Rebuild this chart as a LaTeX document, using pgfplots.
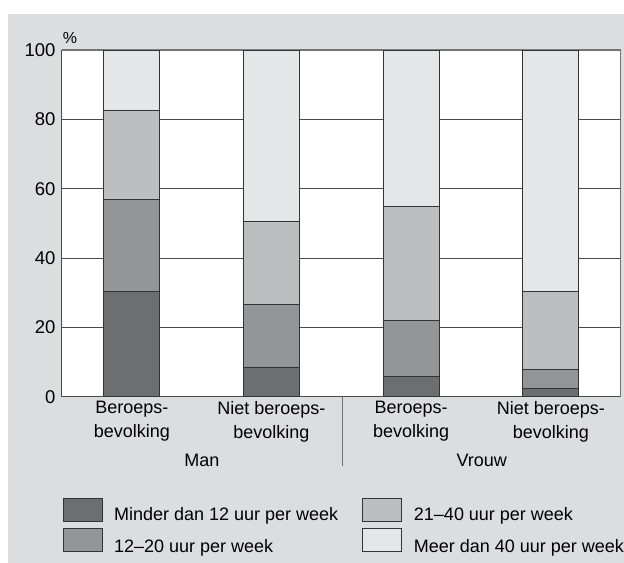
\documentclass[border=0pt]{standalone}
\usepackage{fontspec}
\setmainfont{Liberation Sans}
\usepackage{pgfplots}
\pgfplotsset{compat=1.18}
\definecolor{bg}{HTML}{DCDDDF}
\definecolor{c1}{HTML}{6D6E71}
\definecolor{c2}{HTML}{939598}
\definecolor{c3}{HTML}{BCBEC0}
\definecolor{c4}{HTML}{E5E6E8}
\definecolor{gridc}{HTML}{4A4A4A}
\definecolor{edge}{HTML}{333333}
\begin{document}
\begin{tikzpicture}[x=1pt,y=1pt,font=\fontsize{18}{24}\selectfont]
\fill[white] (-62,-166) rectangle (562,397);
\fill[bg] (-54,-166) rectangle (562,383);
\begin{axis}[
  at={(0,0)}, anchor=south west, scale only axis,
  width=559pt, height=347pt,
  ybar stacked, bar width=56pt,
  xmin=-0.5, xmax=3.5, ymin=0, ymax=100,
  ytick={0,20,40,60,80,100},
  xtick={0,1,2,3},
  xticklabels={{Beroeps-\\bevolking},{Niet beroeps-\\bevolking},{Beroeps-\\bevolking},{Niet beroeps-\\bevolking}},
  xticklabel style={align=center, font=\fontsize{18}{24}\selectfont, yshift=-1pt},
  yticklabel style={font=\fontsize{18.5}{24}\selectfont, xshift=-3pt},
  /pgf/number format/assume math mode=true,
  ymajorgrids, grid style={gridc, line width=0.9pt},
  major tick length=0pt,
  axis line style={draw=none},
  axis background/.style={fill=white},
  every axis plot/.append style={draw=edge, line width=0.8pt},
  clip=false,
]
\addplot[fill=c1, draw=edge] coordinates {(0,30.3) (1,8.6) (2,5.9) (3,2.3)};
\addplot[fill=c2, draw=edge] coordinates {(0,26.7) (1,17.9) (2,16.1) (3,5.5)};
\addplot[fill=c3, draw=edge] coordinates {(0,25.7) (1,24.2) (2,32.8) (3,22.5)};
\addplot[fill=c4, draw=edge] coordinates {(0,17.3) (1,49.3) (2,45.2) (3,69.7)};
\draw[black!55, line width=1.2pt] (rel axis cs:0,1) -- (rel axis cs:1,1) -- (rel axis cs:1,0);
\draw[gridc, line width=1pt] (rel axis cs:0,1) -- (rel axis cs:0,0) -- (rel axis cs:1,0);
\end{axis}
\node at (8,359) {\fontsize{16}{20}\selectfont\%};
\draw[black!55, line width=1pt] (281,0) -- (281,-69);
\node[anchor=base] at (140,-70) {Man};
\node[anchor=base] at (420,-70) {Vrouw};
% legend
\draw[edge, line width=0.8pt, fill=c1] (1,-102) rectangle (40,-125);
\draw[edge, line width=0.8pt, fill=c2] (1,-132) rectangle (40,-155);
\draw[edge, line width=0.8pt, fill=c3] (301,-102) rectangle (340,-125);
\draw[edge, line width=0.8pt, fill=c4] (301,-132) rectangle (340,-155);
\node[anchor=base west, inner sep=0pt] at (52,-124) {Minder dan 12 uur per week};
\node[anchor=base west, inner sep=0pt] at (52,-156) {12--20 uur per week};
\node[anchor=base west, inner sep=0pt] at (352,-124) {21--40 uur per week};
\node[anchor=base west, inner sep=0pt] at (352,-156) {Meer dan 40 uur per week};
\end{tikzpicture}
\end{document}
